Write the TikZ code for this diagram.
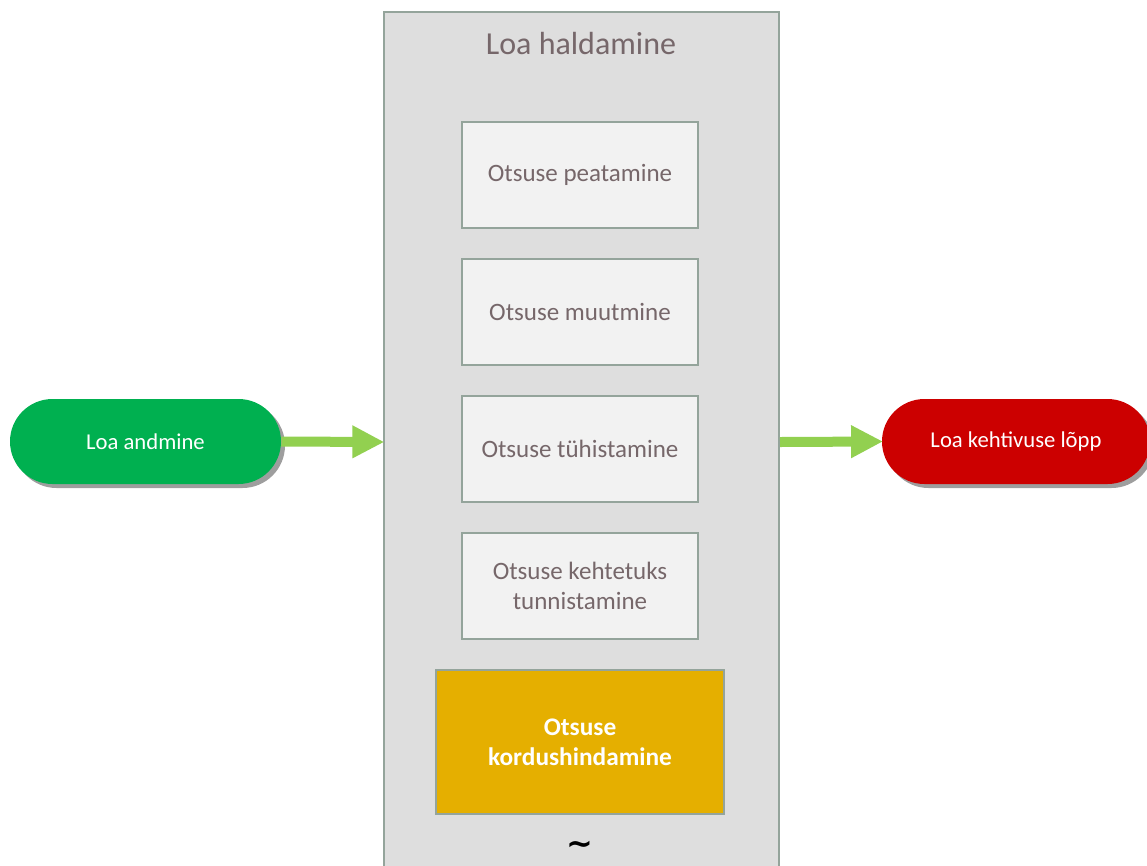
\documentclass[tikz,border=0pt]{standalone}
\usepackage{fontspec}
\setmainfont{Carlito}
\newfontfamily\dejafont{DejaVu Sans}
\usetikzlibrary{arrows.meta,shadows,shapes.misc}
\definecolor{contfill}{HTML}{DEDEDE}
\definecolor{bord}{HTML}{94A49B}
\definecolor{boxfill}{HTML}{F2F2F2}
\definecolor{txt}{HTML}{76676A}
\definecolor{gold}{HTML}{E5AF00}
\definecolor{grn}{HTML}{00B050}
\definecolor{rd}{HTML}{CC0000}
\definecolor{arr}{HTML}{92D050}
\begin{document}
\begin{tikzpicture}[x=0.75pt,y=-0.75pt,
  container/.style={draw=bord,fill=contfill,line width=1.5pt,minimum width=296.25pt,minimum height=645pt,inner sep=0pt},
  stepbox/.style={draw=bord,fill=boxfill,line width=1.5pt,minimum width=177pt,minimum height=79.5pt,text=txt,font=\fontsize{18.75}{22.5}\selectfont,align=center,inner sep=0pt},
  goldbox/.style={draw=bord,fill=gold,line width=1.5pt,minimum width=216pt,minimum height=108pt,text=white,font=\fontsize{19}{22.5}\selectfont\bfseries,align=center,inner sep=0pt},
  pill/.style={rounded rectangle,minimum height=63.75pt,text=white,font=\fontsize{17}{20}\selectfont,inner sep=0pt,
    drop shadow={shadow xshift=3pt,shadow yshift=-3pt,fill=black!38,opacity=1}},
  flow/.style={draw=arr,line width=7.5pt,-{Triangle[length=24pt,width=23pt]},shorten >=-1pt}
]
\useasboundingbox (0,0) rectangle (1147,865);
\begin{scope}
\clip (0,0) rectangle (1147,865);
\node[container] (cont) at (581.5,442) {};
\node[text=txt,font=\fontsize{24}{28}\selectfont] (title) at (581,44) {Loa haldamine};
\node[stepbox] (b1) at (580,175) {Otsuse peatamine};
\node[stepbox] (b2) at (580,312) {Otsuse muutmine};
\node[stepbox] (b3) at (580,449) {Otsuse tühistamine};
\node[stepbox] (b4) at (580,586) {Otsuse kehtetuks\\tunnistamine};
\node[goldbox] (b5) at (580,742) {Otsuse\\kordushindamine};
\node[font=\dejafont\fontsize{24}{26}\selectfont\bfseries] (tilde) at (580,848) {\char"007E};
\node[pill,fill=grn,minimum width=203.25pt] (start) at (145.5,441.5) {Loa andmine};
\node[pill,fill=rd,minimum width=201pt] (end) at (1016,441.5) {Loa kehtivuse lõpp};
\draw[flow] (start.east) -- (cont.west);
\draw[flow] (cont.east) -- (end.west);
\end{scope}
\end{tikzpicture}
\end{document}
